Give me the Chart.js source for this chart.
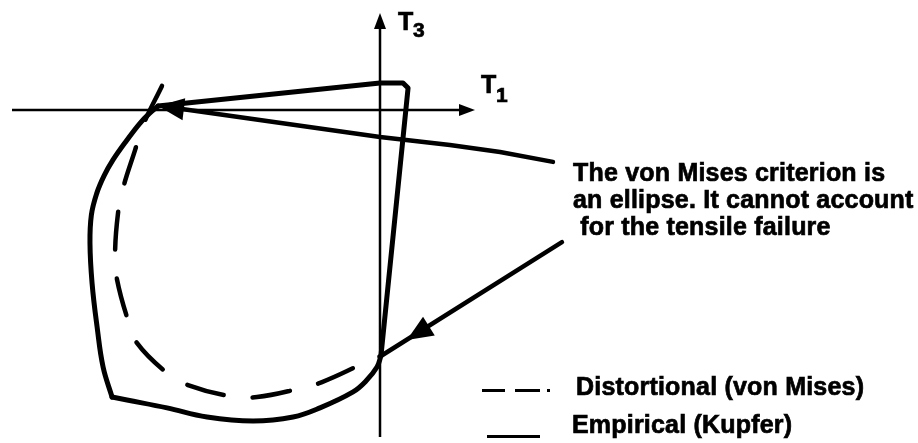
<!DOCTYPE html>
<html>
<head>
<meta charset="utf-8">
<script src="https://cdn.jsdelivr.net/npm/chart.js@4"></script>
<style>
  body { margin: 0; background: #fff; }
  #wrap { position: relative; width: 918px; height: 443px; overflow: hidden; }
  #wrap canvas { position: absolute; left: 0; top: 0; }
  .txt { position: absolute; font-family: "Liberation Sans", Arial, sans-serif; font-weight: bold; color: #000; white-space: pre; -webkit-text-stroke: 0.7px #000; }
  .note { left: 573px; top: 159px; font-size: 25px; line-height: 27px; letter-spacing: 0.2px; }
  .leg { font-size: 25px; line-height: 27px; letter-spacing: 0.2px; }
  .sym { position: absolute; border-top: 3px solid #000; height: 0; }
</style>
</head>
<body>
<div id="wrap">
  <canvas id="chart" width="918" height="443"></canvas>
  <div class="txt" style="left:398px;top:7px;font-size:25px;">T</div>
  <div class="txt" style="left:413px;top:18px;font-size:21px;">3</div>
  <div class="txt" style="left:481px;top:70px;font-size:25px;">T</div>
  <div class="txt" style="left:496px;top:83px;font-size:21px;">1</div>
  <div class="txt note">The von Mises criterion is
an ellipse. It cannot account
 for the tensile failure</div>
  <div class="sym" style="left:482px;top:389px;width:23px;"></div>
  <div class="sym" style="left:515px;top:389px;width:25px;"></div>
  <div class="sym" style="left:547px;top:389px;width:3px;"></div>
  <div class="txt leg" style="left:576px;top:373px;">Distortional (von Mises)</div>
  <div class="sym" style="left:487px;top:435px;width:53px;"></div>
  <div class="txt leg" style="left:572px;top:411px;">Empirical (Kupfer)</div>
</div>
<script>
// principal stresses normalised by the uniaxial compressive strength
// von Mises ellipse (dashed), compression-compression part
const misesT1 = [-0.948, -1.030, -1.065, -1.117, -1.139, -1.152, -1.143, -1.096, -1.057, -0.926, -0.835, -0.652, -0.535, -0.357, -0.252, -0.078, 0.004];
const misesT3 = [0.098, -0.061, -0.163, -0.317, -0.419, -0.589, -0.691, -0.854, -0.947, -1.069, -1.118, -1.163, -1.167, -1.134, -1.106, -1.033, -1.000];

// Kupfer envelope (solid), bottom part
const kupferBottomT1 = [0.004, -0.013, -0.061, -0.117, -0.261, -0.378, -0.552, -0.752, -0.926, -1.100, -1.165];
const kupferBottomT3 = [-1.000, -1.045, -1.102, -1.146, -1.211, -1.248, -1.264, -1.248, -1.211, -1.179, -1.167];
// left part
const kupferLeftT1 = [-1.165, -1.204, -1.230, -1.252, -1.261, -1.255, -1.232, -1.200, -1.161, -1.100, -1.043, -1.000, -0.965];
const kupferLeftT3 = [-1.167, -1.045, -0.882, -0.703, -0.541, -0.427, -0.340, -0.268, -0.203, -0.122, -0.053, -0.012, 0.016];
// tension side
const kupferTensT1 = [-0.965, 0.000, 0.100, 0.122, 0.004];
const kupferTensT3 = [0.016, 0.110, 0.110, 0.089, -1.000];

// axes extents and annotation arrows
const axisT1 = [-1.60, 0.413];
const axisT3 = [-1.329, 0.394];
const arrow1T1 = [0.752, 0.522, 0.304, 0.000, -0.861, -0.965];
const arrow1T3 = [-0.211, -0.171, -0.142, -0.110, 0.004, 0.016];
const arrow2T1 = [0.791, 0.004];
const arrow2T3 = [-0.537, -1.000];
const arrow2Head = [0.117, -0.935];

const pts = (xs, ys) => xs.map((x, i) => ({ x: x, y: ys[i] }));

const solid = (data, tension) => ({
  data: data, showLine: true, borderColor: "#000", borderWidth: 5,
  pointRadius: 0, tension: tension, borderCapStyle: "round", borderJoinStyle: "round"
});

function head(ctx, tip, from, len, hw) {
  const dx = tip.x - from.x, dy = tip.y - from.y;
  const d = Math.hypot(dx, dy), ux = dx / d, uy = dy / d;
  const bx = tip.x - ux * len, by = tip.y - uy * len;
  ctx.beginPath();
  ctx.moveTo(tip.x, tip.y);
  ctx.lineTo(bx - uy * hw, by + ux * hw);
  ctx.lineTo(bx + uy * hw, by - ux * hw);
  ctx.closePath();
  ctx.fill();
}

const decor = {
  id: "decor",
  beforeDatasetsDraw(chart) {
    const { ctx, scales: { x, y } } = chart;
    const P = (a, b) => ({ x: x.getPixelForValue(a), y: y.getPixelForValue(b) });
    ctx.save();
    ctx.strokeStyle = "#000"; ctx.fillStyle = "#000"; ctx.lineWidth = 2.5;
    // T1 axis
    let a = P(axisT1[0], 0), b = P(axisT1[1], 0);
    ctx.beginPath(); ctx.moveTo(a.x, a.y); ctx.lineTo(b.x - 8, b.y); ctx.stroke();
    head(ctx, b, a, 16, 6);
    // T3 axis
    a = P(0, axisT3[0]); b = P(0, axisT3[1]);
    ctx.beginPath(); ctx.moveTo(a.x, a.y); ctx.lineTo(b.x, b.y + 8); ctx.stroke();
    head(ctx, b, a, 16, 6);
    ctx.restore();
  },
  afterDatasetsDraw(chart) {
    const { ctx, scales: { x, y } } = chart;
    const P = (a, b) => ({ x: x.getPixelForValue(a), y: y.getPixelForValue(b) });
    ctx.save();
    ctx.strokeStyle = "#000"; ctx.fillStyle = "#000"; ctx.lineWidth = 4.5;
    ctx.lineCap = "round"; ctx.lineJoin = "round";
    const p1 = pts(arrow1T1, arrow1T3).map(p => P(p.x, p.y));
    ctx.beginPath();
    p1.slice(0, -1).forEach((p, i) => i ? ctx.lineTo(p.x, p.y) : ctx.moveTo(p.x, p.y));
    ctx.stroke();
    head(ctx, p1[p1.length - 1], p1[p1.length - 2], 26, 11);
    const p2 = pts(arrow2T1, arrow2T3).map(p => P(p.x, p.y));
    ctx.beginPath(); ctx.moveTo(p2[0].x, p2[0].y); ctx.lineTo(p2[1].x, p2[1].y); ctx.stroke();
    head(ctx, P(arrow2Head[0], arrow2Head[1]), p2[0], 26, 11);
    ctx.restore();
  }
};

new Chart(document.getElementById("chart"), {
  type: "scatter",
  data: {
    datasets: [
      { label: "Distortional (von Mises)", data: pts(misesT1, misesT3), showLine: true,
        borderColor: "#000", borderWidth: 4.5, borderDash: [38, 29], borderCapStyle: "round",
        pointRadius: 0, tension: 0.4 },
      Object.assign({ label: "Empirical (Kupfer)" }, solid(pts(kupferBottomT1, kupferBottomT3), 0.4)),
      solid(pts(kupferLeftT1, kupferLeftT3), 0.4),
      solid(pts(kupferTensT1, kupferTensT3), 0)
    ]
  },
  options: {
    responsive: false,
    animation: false,
    layout: { padding: 0 },
    plugins: { legend: { display: false }, tooltip: { enabled: false } },
    scales: {
      x: { type: "linear", min: -1.6522, max: 2.3391, display: false },
      y: { type: "linear", min: -1.3537, max: 0.4472, display: false }
    }
  },
  plugins: [decor]
});
</script>
</body>
</html>
